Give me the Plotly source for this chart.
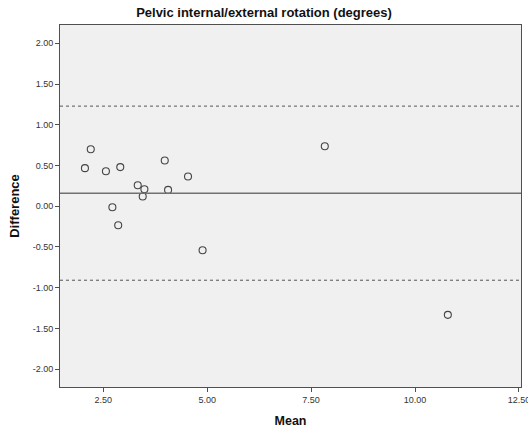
import plotly.graph_objects as go

mean_vals = [2.06, 2.20, 2.565, 2.91, 2.72, 3.33, 3.49, 3.45, 3.98, 4.06, 4.54, 2.86, 4.89, 7.83, 10.79]
diff_vals = [0.467, 0.70, 0.43, 0.48, -0.012, 0.258, 0.209, 0.119, 0.561, 0.20, 0.365, -0.233, -0.54, 0.737, -1.334]
bias = 0.16
upper_loa = 1.229
lower_loa = -0.909
x_ticks = [2.5, 5.0, 7.5, 10.0, 12.5]
x_tick_labels = ["2.50", "5.00", "7.50", "10.00", "12.50"]
y_ticks = [-2.0, -1.5, -1.0, -0.5, 0.0, 0.5, 1.0, 1.5, 2.0]
y_tick_labels = ["-2.00", "-1.50", "-1.00", "-0.50", "0.00", "0.50", "1.00", "1.50", "2.00"]

fig = go.Figure()
fig.add_trace(go.Scatter(
    x=mean_vals, y=diff_vals, mode="markers",
    marker=dict(symbol="circle-open", size=7, color="#444444", line=dict(width=1.1, color="#444444")),
    showlegend=False, hoverinfo="x+y"))

fig.add_hline(y=bias, line=dict(color="#707070", width=1.5))
fig.add_hline(y=upper_loa, line=dict(color="#555555", width=1, dash="dot"))
fig.add_hline(y=lower_loa, line=dict(color="#555555", width=1, dash="dot"))

axis_common = dict(
    showgrid=False, zeroline=False, showline=True, mirror=True,
    linecolor="#505050", linewidth=1, ticks="outside", ticklen=4,
    tickcolor="#505050", tickfont=dict(family="Liberation Sans, Arial", size=9, color="#333333"),
    ticklabeloverflow="allow", automargin=False,
)

fig.update_layout(
    width=528, height=436,
    margin=dict(l=60, r=7, t=25, b=49),
    paper_bgcolor="white", plot_bgcolor="#F0F0F0",
    title=dict(text="<b>Pelvic internal/external rotation (degrees)</b>",
               x=0.5, xref="container", xanchor="center", y=0.972, yanchor="middle",
               font=dict(family="Liberation Sans, Arial", size=13, color="#111111")),
    xaxis=dict(range=[1.46, 12.55], tickvals=x_ticks, ticktext=x_tick_labels,
               title=dict(text="<b>Mean</b>", standoff=12,
                          font=dict(family="Liberation Sans, Arial", size=12.5, color="#111111")),
               **axis_common),
    yaxis=dict(range=[-2.22, 2.225], tickvals=y_ticks, ticktext=y_tick_labels,
               title=dict(text="<b>Difference</b>", standoff=10,
                          font=dict(family="Liberation Sans, Arial", size=13, color="#111111")),
               **axis_common),
)

fig.write_html("out.html")
